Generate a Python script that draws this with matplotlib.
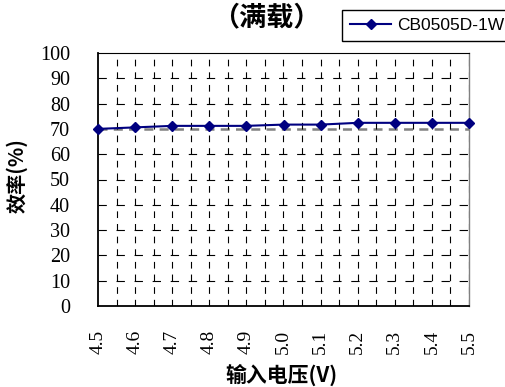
import matplotlib
matplotlib.use("Agg")
import matplotlib.pyplot as plt
import numpy as np

plt.rcParams['lines.scale_dashes'] = False

voltage = [4.5, 4.6, 4.7, 4.8, 4.9, 5.0, 5.1, 5.2, 5.3, 5.4, 5.5]
efficiency = [70.0, 70.6, 71.2, 71.2, 71.2, 71.7, 71.7, 72.4, 72.4, 72.4, 72.4]
xtick_labels = ["4.5", "4.6", "4.7", "4.8", "4.9", "5.0", "5.1", "5.2", "5.3", "5.4", "5.5"]
yticks = [0, 10, 20, 30, 40, 50, 60, 70, 80, 90, 100]
series_name = "CB0505D-1W"
title = "（满载）"
xlabel = "输入电压(V)"
ylabel = "效率(%)"

W, H = 505, 387
fig = plt.figure(figsize=(W / 100, H / 100), dpi=100)
ax = fig.add_axes([98 / W, 1 - 306 / H, (469 - 98) / W, (306 - 53) / H])

ax.set_xlim(4.5, 5.5)
ax.set_ylim(0, 100)

# grid: horizontal dashed lines
for yv in yticks[1:-1]:
    if yv == 70:
        ax.axhline(yv, color='#808080', lw=1.8, dashes=(6.5, 4.5), zorder=1)
    else:
        ax.axhline(yv, color='black', lw=0.8, dashes=(6.0, 7.0), zorder=1)
# vertical dashed lines every 0.05
for xv in np.arange(4.55, 5.5, 0.05):
    ax.axvline(xv, color='black', lw=0.8, dashes=(4.8, 4.3), zorder=1)

ax.plot(voltage, efficiency, color='#000080', lw=1.5, marker='D', ms=5.5,
        markerfacecolor='#000080', markeredgecolor='#000080', label=series_name,
        zorder=3, clip_on=False)

serif = 'Liberation Serif'
ax.set_xticks(voltage)
ax.set_xticklabels(xtick_labels)
ax.set_yticks(yticks)
ax.set_yticklabels([str(v) for v in yticks])
ax.tick_params(axis='x', length=0, pad=17, labelrotation=90, labelsize=14,
               labelfontfamily=serif)
ax.tick_params(axis='y', length=0, pad=20, labelsize=14.5, labelfontfamily=serif)

for s in ['left', 'bottom']:
    ax.spines[s].set_color('black')
    ax.spines[s].set_linewidth(1.3)
ax.spines['top'].set_color('black')
ax.spines['top'].set_linewidth(0.8)
ax.spines['right'].set_color('#808080')
ax.spines['right'].set_linewidth(1.0)

cjk = ['Noto Sans CJK SC', 'DejaVu Sans']
fig.text(266 / W, 1 - 17 / H, title, ha='center', va='center', family=cjk,
         fontweight='bold', fontsize=19.5)
fig.text(281 / W, 1 - 375 / H, xlabel, ha='center', va='center', family=cjk,
         fontweight='bold', fontsize=15)
fig.text(17 / W, 1 - 176 / H, ylabel, ha='center', va='center', rotation=90,
         family=cjk, fontweight='bold', fontsize=14.5)

leg = fig.legend(loc='upper left', bbox_to_anchor=(342 / W, 1 - 10 / H),
                 borderaxespad=0, fancybox=False, framealpha=1, edgecolor='black',
                 prop={'family': 'Liberation Sans', 'size': 12.5},
                 handlelength=2.4, handletextpad=0.35, borderpad=0.45)
leg.get_frame().set_linewidth(1.0)

fig.savefig("out.png", dpi=100)
